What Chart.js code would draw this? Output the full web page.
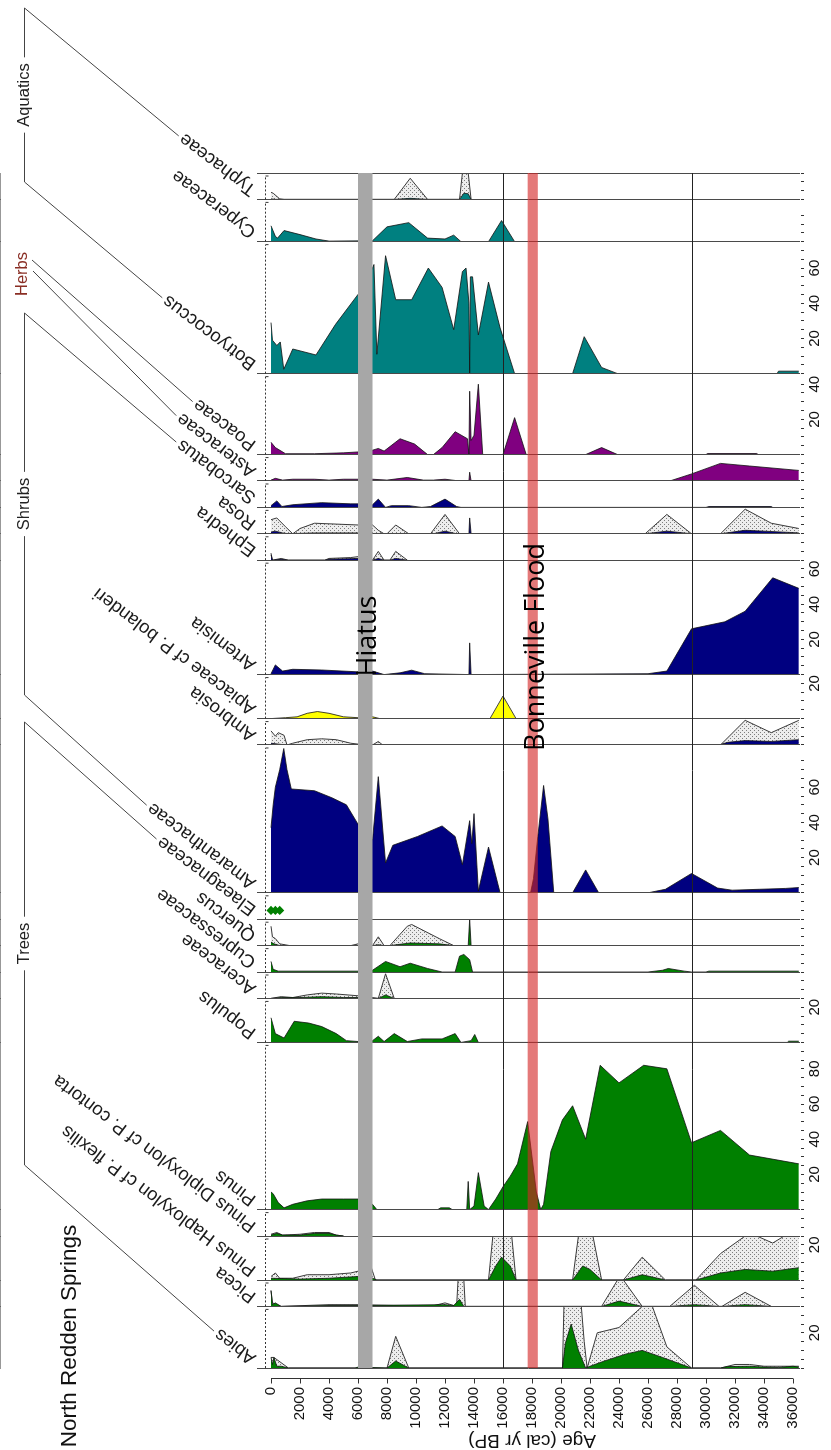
<!DOCTYPE html>
<html>
<head>
<meta charset="utf-8">
<script src="https://cdn.jsdelivr.net/npm/chart.js@4.4.1/dist/chart.umd.min.js"></script>
<style>
  html, body { margin: 0; padding: 0; background: #fff; }
</style>
</head>
<body>
<canvas id="diagram" width="831" height="1450"></canvas>
<script>
// ---- data: [age cal yr BP, percent] ----
const ageTicks = [0, 2000, 4000, 6000, 8000, 10000, 12000, 14000, 16000, 18000, 20000, 22000, 24000, 26000, 28000, 30000, 32000, 34000, 36000];
const hiatusAges = [6000, 7000];
const floodAges = [17700, 18400];
const eventAges = [16000, 29000];

const typhaceae = [[0,0.3],[300,0],[8500,0],[9600,0.6],[10800,0],[13000,0],[13300,3.5],[13600,3.2],[13800,0]];
const typhaceaeX = [[0,4],[150,3.5],[600,0.3],[900,0],[8500,0],[9600,12],[10800,0],[13000,0],[13200,15],[13600,15],[13800,0]];
const cyperaceae = [[0,9],[300,3],[450,2],[900,6.3],[2000,4],[3100,1.5],[4000,0.3],[7000,0.5],[8000,8.4],[9500,10.8],[10800,2],[12000,1.5],[12600,3.7],[13100,0],[15000,0],[15900,12],[16800,0]];
const botryococcus = [[0,29],[100,19],[400,16],[640,18],[880,2.5],[1500,14],[3100,10.6],[4450,28],[6000,45],[7000,60],[7100,62],[7300,11],[7900,67],[8600,42],[9700,42],[10850,60],[11800,49],[12600,25],[13200,58],[13450,60],[13650,40],[13700,0],[13750,55],[13900,55],[14300,22],[15000,52],[15800,26],[16800,0],[20800,0],[21600,21],[22800,3.5],[23900,0],[34900,0],[35000,1.4],[36400,1.4]];
const poaceae = [[0,7],[300,4],[1000,0.5],[3000,0.5],[5000,1],[6000,1.5],[7000,2.5],[7400,3.5],[7800,2],[8900,9],[9900,6],[10800,0],[11200,0],[11800,4],[12700,13],[13550,9],[13650,0],[13700,36],[13800,8],[14000,11],[14300,40],[14600,0],[16000,0],[16800,21],[17600,0],[21700,0],[22800,4],[23900,0],[30000,0],[30100,0.6],[33500,0.6],[33600,0]];
const asteraceae = [[0,0.5],[300,1.5],[800,0.5],[1500,1],[3000,1],[4000,0.5],[5000,1],[6000,1],[7000,1],[8000,0.5],[9400,2],[10500,0.5],[11200,0.5],[12000,1],[13000,0],[13650,0],[13700,5],[13800,0],[27500,0],[29000,4],[31000,10],[33000,8.5],[36400,6]];
const sarcobatus = [[0,1],[400,3.7],[750,0.5],[1500,1.5],[3500,2.7],[5500,2],[6000,2],[7000,1.5],[7400,4.7],[7900,0],[8300,1],[9500,1],[10400,0],[11000,0.5],[12000,4.7],[12800,0.5],[13100,0],[30000,0],[30200,0.5],[34500,0.5],[34600,0]];
const rosa = [[0,1],[300,1.5],[800,0.5],[1200,0],[3000,0.5],[6000,0.5],[7000,0],[11200,0],[12000,1.5],[12800,0],[13650,0],[13700,9],[13800,0],[25800,0],[27300,1.5],[29000,0],[31000,0],[32700,2],[34000,1.5],[36400,0.5]];
const rosaX = [[0,8],[400,9],[1000,4],[1500,0],[2000,3],[3000,6],[4500,5.5],[6000,5],[7000,5],[7400,2],[7800,0],[8000,0],[8600,5],[9500,0],[11000,0],[12000,11],[13000,0],[25800,0],[27300,11],[29000,0],[31000,0],[32700,14],[34500,6],[36400,3]];
const ephedra = [[0,3],[100,0],[700,0.5],[1200,0],[3700,0],[4000,0.5],[6000,1],[6500,0.5],[7000,0],[7400,1],[7800,0],[8200,0],[8600,1],[9400,0]];
const ephedraX = [[0,4],[100,0],[700,1],[1200,0],[3700,0],[4000,1],[5500,1.5],[6000,2],[6500,4],[7000,0],[7400,5],[7800,0],[8200,0],[8600,5],[9400,0]];
const artemisia = [[0,0.5],[300,5.5],[800,2],[1500,3],[3500,2.6],[5900,1.6],[7000,2],[7800,0],[8900,1],[9700,2.5],[10600,0.5],[13650,0],[13700,18],[13800,0],[26000,0.5],[27300,2],[29000,26],[31300,30],[32700,36],[34600,55],[36400,49]];
const apiaceae = [[0,0],[1000,0.5],[1800,1],[2500,3],[3200,4],[4000,3],[5000,1],[6000,0.5],[7000,1],[7500,0]];
const apiaceaeFind = [[16000,4.3]];
const ambrosia = [[0,1],[1000,0],[30900,0],[31500,1.5],[32700,2.5],[34500,2],[36400,3]];
const ambrosiaX = [[0,8],[300,5],[500,7],[900,5.5],[1100,0],[1500,1],[2500,3],[3500,3.5],[4500,3],[5500,1],[6000,0.5],[7000,0],[7400,2],[7700,0],[31000,0],[32700,14],[34500,7],[36400,14]];
const amaranthaceae = [[0,37],[150,50],[300,60],[600,70],[880,82],[1100,70],[1400,59],[3000,58],[4200,54],[5200,50],[6000,39],[7000,30],[7400,66],[7900,17],[8400,27],[10100,32],[11800,38],[12700,32],[13200,16],[13700,41],[13850,28],[14000,45],[14300,1],[15000,26],[15800,0],[17900,0],[18100,8],[18400,32],[18800,61],[19100,42],[19500,0],[20800,0],[21700,13],[22600,0],[26000,0],[27200,2],[29000,11],[30800,2.7],[31800,1.5],[33700,2],[35500,2.5],[36400,3]];
const elaeagnaceae = [[0,5],[300,5],[600,5]];
const quercus = [[0,2],[200,1],[600,0],[7000,0],[7400,0.5],[7800,0],[8200,0],[9600,1.5],[11600,1],[12600,0],[13600,0],[13700,15],[13800,0]];
const quercusX = [[0,11],[100,5],[300,4],[600,1],[1300,0],[5500,0],[6000,1],[7000,0],[7400,5],[7800,0],[8200,0],[9400,11],[9700,12],[11600,4],[12600,0]];
const cupressaceae = [[0,6],[150,1.5],[500,0.5],[6000,0.5],[7000,1],[7900,6],[8900,3],[9600,5],[10800,2],[11800,0],[12700,0],[13000,9],[13300,10],[13700,7],[13900,0],[26000,0],[27000,1],[27400,2],[28500,0.5],[29000,0],[30000,0],[30200,0.5],[36400,0.5]];
const aceraceae = [[0,0],[700,0.5],[2000,0.5],[3500,1],[5000,0.5],[6000,0.5],[7400,0],[7900,2],[8500,0]];
const aceraceaeX = [[0,0],[700,1],[1500,0.5],[2500,2],[3500,3],[4500,2.5],[6000,1.5],[7400,0],[7900,14],[8500,0]];
const populus = [[0,14],[100,11],[300,5],[900,2.5],[1600,12],[2600,11],[3500,9],[4500,5],[5200,1],[6000,0.5],[7000,1],[7400,3.5],[7800,0.5],[8500,5],[9400,0.5],[10400,2],[11800,2],[12700,5],[13100,0],[13800,1],[14050,4.5],[14300,0],[35600,0],[35700,0.7],[36400,0.7]];
const pinus = [[0,10],[150,9],[500,4],[900,1],[1500,3],[2500,5],[3500,6],[5000,6],[6000,6],[6500,5],[7000,3],[7300,0],[11500,0],[11700,1],[12300,1],[12500,0],[13500,0],[13600,16],[13700,0],[14000,2],[14300,21],[14700,2],[15000,0],[15500,6],[16000,13],[16500,19],[17000,26],[17700,50],[18300,10],[18600,0],[18800,3],[19300,33],[20100,51],[20800,59],[21700,40],[22700,82],[24000,72],[25700,82],[27300,80],[29000,38],[31000,45],[33000,31],[36400,26]];
const diploxylon = [[0,0.5],[400,1.5],[800,0.5],[2000,0.5],[3000,1.5],[4000,1.5],[4500,0.5],[5000,0]];
const diploxylonX = [[0,1],[400,2],[800,0.5],[2000,1],[3000,2],[4000,2],[4500,0.5],[5000,0]];
const haploxylon = [[0,1],[2000,0.5],[4000,1],[6000,2],[7000,1],[7300,0],[15000,0],[15500,8],[15900,13],[16500,8],[16900,0],[20800,0],[21500,8],[22000,6],[22800,0],[24300,0],[25600,3],[27200,0],[29300,0],[31000,4],[32700,6],[34600,5],[36400,7]];
const haploxylonX = [[0,2],[300,4],[600,1],[1500,1],[2500,3],[4000,3],[5500,4],[6000,5],[6800,10],[7200,0],[15000,0],[15300,25],[16600,25],[16900,0],[20800,0],[21200,25],[22200,25],[22800,0],[24300,0],[25600,13],[27200,0],[29300,0],[31000,15],[32700,25],[33500,25],[34600,21],[35400,25],[36400,25]];
const picea = [[0,9],[100,1],[300,2],[700,0],[4000,0.5],[6000,0.5],[12000,1],[12600,0.5],[13000,4],[13300,0],[22800,0],[24000,3],[25600,0],[27500,0],[29200,1],[30900,0],[31100,0],[32700,1],[34500,0]];
const piceaX = [[0,9],[100,2],[700,0],[4000,1],[6000,1],[11000,0],[12000,2],[12800,0],[12900,15],[13300,15],[13400,0],[22800,0],[23900,15],[24300,15],[25600,0],[27500,0],[29200,12],[30900,0],[31100,0],[32700,8],[34500,0]];
const abies = [[0,6],[100,2],[200,6],[400,1],[700,1],[1200,0],[5800,0],[6000,0.5],[8000,0],[8600,4],[9500,0],[20100,0],[20300,14],[20700,25],[21200,10],[21700,0],[22000,1],[23000,4],[24500,8],[25600,10],[27000,6],[28000,3],[29000,0],[31000,0],[31500,0.8],[33000,1],[34000,0.5],[35000,0.3],[36000,1],[36400,0.5]];
const abiesX = [[0,6],[200,6],[1200,0],[8000,0],[8600,18],[9500,0],[20100,0],[20200,35],[21400,35],[21600,15],[21800,0],[22500,20],[24000,23],[25600,35],[26300,35],[27300,12],[29000,0],[31000,0],[32000,2],[33000,2],[34000,1],[36400,1]];

// ---- panel setup, top to bottom ----
const TEAL = '#008080', PURPLE = '#800080', NAVY = '#000080', GREEN = '#008000', YELLOW = '#ffff00';
const FONT = 'Arial, "Liberation Sans", sans-serif';

const panels = [
  { name: 'Typhaceae', data: typhaceae, exag: typhaceaeX, color: TEAL, max: 15 },
  { name: 'Cyperaceae', data: cyperaceae, color: TEAL, max: 24 },
  { name: 'Botryococcus', data: botryococcus, color: TEAL, max: 75 },
  { name: 'Poaceae', data: poaceae, color: PURPLE, max: 46 },
  { name: 'Asteraceae', data: asteraceae, color: PURPLE, max: 15 },
  { name: 'Sarcobatus', data: sarcobatus, color: NAVY, max: 15 },
  { name: 'Rosa', data: rosa, exag: rosaX, color: NAVY, max: 15 },
  { name: 'Ephedra', data: ephedra, exag: ephedraX, color: NAVY, max: 15 },
  { name: 'Artemisia', data: artemisia, color: NAVY, max: 65 },
  { name: 'Apiaceae cf P. bolanderi', data: apiaceae, find: apiaceaeFind, color: YELLOW, max: 25 },
  { name: 'Ambrosia', data: ambrosia, exag: ambrosiaX, color: NAVY, max: 15 },
  { name: 'Amaranthaceae', data: amaranthaceae, color: NAVY, max: 84 },
  { name: 'Elaeagnaceae', data: elaeagnaceae, color: GREEN, max: 15, dots: true },
  { name: 'Quercus', data: quercus, exag: quercusX, color: GREEN, max: 15 },
  { name: 'Cupressaceae', data: cupressaceae, color: GREEN, max: 15 },
  { name: 'Aceraceae', data: aceraceae, exag: aceraceaeX, color: GREEN, max: 15 },
  { name: 'Populus', data: populus, color: GREEN, max: 25 },
  { name: 'Pinus', data: pinus, color: GREEN, max: 95 },
  { name: 'Pinus Diploxylon cf P. contorta', data: diploxylon, exag: diploxylonX, color: GREEN, max: 15 },
  { name: 'Pinus Haploxylon cf P. flexilis', data: haploxylon, exag: haploxylonX, color: GREEN, max: 25 },
  { name: 'Picea', data: picea, exag: piceaX, color: GREEN, max: 15 },
  { name: 'Abies', data: abies, exag: abiesX, color: GREEN, max: 35 }
];

const groups = [
  { label: 'Aquatics', first: 'Typhaceae', last: 'Botryococcus', y0: 8, y1: 182 },
  { label: 'Shrubs', first: 'Sarcobatus', last: 'Amaranthaceae', y0: 313, y1: 695 },
  { label: 'Trees', first: 'Elaeagnaceae', last: 'Abies', y0: 722, y1: 1165 }
];

const canvas = document.getElementById('diagram');
const ctx0 = canvas.getContext('2d');

// stipple fill for the exaggeration curves
function stipple() {
  const c = document.createElement('canvas');
  c.width = 4; c.height = 4;
  const g = c.getContext('2d');
  g.fillStyle = '#ededed'; g.fillRect(0, 0, 4, 4);
  g.fillStyle = '#7d7d7d'; g.fillRect(0, 0, 1, 1); g.fillRect(2, 2, 1, 1);
  return ctx0.createPattern(c, 'repeat');
}
const dots = stipple();
const toXY = pts => pts.map(([x, y]) => ({ x, y }));

const datasets = [];
const scales = {
  x: {
    type: 'linear', min: -966, max: 36482,
    afterBuildTicks: axis => { axis.ticks = ageTicks.map(v => ({ value: v })); },
    afterFit: axis => { axis.height = 62; },
    grid: { display: false, drawTicks: false },
    border: { display: false },
    ticks: { autoSkip: false, minRotation: 90, maxRotation: 90, padding: 19, color: '#111',
      font: { family: FONT, size: 15 }, callback: v => String(v) }
  }
};

panels.forEach((p, i) => {
  const id = 'y' + i;
  scales[id] = {
    type: 'linear', position: 'right', stack: 'taxa', stackWeight: p.max,
    min: 0, max: p.max,
    afterFit: axis => { axis.width = 26; },
    grid: {
      z: 1, drawOnChartArea: true, drawTicks: true, tickLength: 4, tickColor: '#333',
      color: c => (c.tick && (c.tick.value === 0 || (i === 0 && c.tick.value === p.max))) ? '#4a4a4a' : 'rgba(0,0,0,0)'
    },
    border: { display: true, color: '#333' },
    ticks: { stepSize: 5, autoSkip: false, minRotation: 90, maxRotation: 90, padding: 3, crossAlign: 'center',
      color: '#111', font: { family: FONT, size: 15 },
      callback: v => (v > 0 && v % 20 === 0) ? String(v) : '' }
  };
  if (p.exag) {
    datasets.push({ data: toXY(p.exag), yAxisID: id, fill: 'origin', backgroundColor: dots,
      borderColor: '#3a3a3a', borderWidth: 1, pointRadius: 0, tension: 0, order: 2 });
  }
  if (p.dots) {
    datasets.push({ data: toXY(p.data), yAxisID: id, fill: false, borderColor: p.color, borderWidth: 1.5,
      pointStyle: 'rectRot', pointRadius: 3.5, pointBackgroundColor: p.color, pointBorderColor: p.color, order: 1 });
  } else {
    datasets.push({ data: toXY(p.data), yAxisID: id, fill: 'origin', backgroundColor: p.color,
      borderColor: '#111', borderWidth: 0.8, pointRadius: 0, tension: 0, order: 1 });
  }
  if (p.find) {
    datasets.push({ data: toXY(p.find), yAxisID: id, showLine: false, pointStyle: 'triangle', pointRadius: 15,
      pointBackgroundColor: YELLOW, pointBorderColor: '#444', pointBorderWidth: 1, order: 0 });
  }
});

const ANG = 217 * Math.PI / 180;
const DIR = [Math.cos(ANG), Math.sin(ANG)];
const UP = [Math.sin(ANG), -Math.cos(ANG)];

const decor = {
  id: 'decor',
  afterDraw(chart) {
    const { ctx, chartArea: a, scales: s } = chart;
    const X = v => s.x.getPixelForValue(v);
    ctx.save();
    ctx.lineWidth = 1;
    ctx.strokeStyle = '#333';

    // left value axes of every panel
    const ax = Math.round(X(-414)) + 0.5;
    panels.forEach((p, i) => {
      const sc = s['y' + i];
      ctx.setLineDash([2, 2]);
      ctx.beginPath(); ctx.moveTo(ax, sc.bottom); ctx.lineTo(ax, sc.top + 3); ctx.stroke();
      ctx.setLineDash([]);
      ctx.beginPath(); ctx.moveTo(ax, sc.top + 3); ctx.lineTo(ax + 3, sc.top + 3); ctx.stroke();
    });

    // age axis line and ticks
    const ay = Math.round(a.bottom + 10) + 0.5;
    ctx.beginPath(); ctx.moveTo(X(ageTicks[0]), ay); ctx.lineTo(X(ageTicks[ageTicks.length - 1]), ay); ctx.stroke();
    s.x.ticks.forEach(t => {
      const x = Math.round(X(t.value)) + 0.5;
      ctx.beginPath(); ctx.moveTo(x, ay); ctx.lineTo(x, ay + 5); ctx.stroke();
    });

    // event lines
    ctx.strokeStyle = '#222';
    eventAges.forEach(v => {
      const x = Math.round(X(v)) + 0.5;
      ctx.beginPath(); ctx.moveTo(x, a.top); ctx.lineTo(x, a.bottom); ctx.stroke();
    });

    // hiatus and flood bands
    ctx.fillStyle = '#a7a7a7';
    ctx.fillRect(X(hiatusAges[0]), a.top, X(hiatusAges[1]) - X(hiatusAges[0]), a.bottom - a.top);
    ctx.fillStyle = 'rgba(212, 38, 38, 0.62)';
    ctx.fillRect(X(floodAges[0]), a.top, X(floodAges[1]) - X(floodAges[0]), a.bottom - a.top);

    ctx.fillStyle = '#000';
    ctx.font = '27px "Open Sans", sans-serif';
    ctx.textAlign = 'center'; ctx.textBaseline = 'middle';
    [['Hiatus', X(6700), 636], ['Bonneville Flood', X(18300), 647]].forEach(([t, x, y]) => {
      ctx.save(); ctx.translate(x, y); ctx.rotate(-Math.PI / 2); ctx.fillText(t, 0, 0); ctx.restore();
    });

    // taxon labels
    ctx.font = '18.5px ' + FONT;
    ctx.fillStyle = '#1a1a1a';
    ctx.textAlign = 'left'; ctx.textBaseline = 'alphabetic';
    const ends = {};
    panels.forEach((p, i) => {
      const sc = s['y' + i];
      const x0 = a.left, y0 = sc.bottom - 12;
      ctx.save(); ctx.translate(x0, y0); ctx.rotate(ANG); ctx.fillText(p.name, 0, 0); ctx.restore();
      const w = ctx.measureText(p.name).width + 3;
      ends[p.name] = [x0 + w * DIR[0] + 6 * UP[0], y0 + w * DIR[1] + 6 * UP[1]];
    });

    // group brackets
    ctx.strokeStyle = '#444';
    ctx.font = '16.5px ' + FONT;
    ctx.textAlign = 'center'; ctx.textBaseline = 'middle';
    const gx = 24.5;
    groups.forEach(g => {
      const mid = (g.y0 + g.y1) / 2;
      const half = ctx.measureText(g.label).width / 2 + 6;
      ctx.beginPath();
      ctx.moveTo(...ends[g.first]); ctx.lineTo(gx, g.y0); ctx.lineTo(gx, mid - half);
      ctx.moveTo(gx, mid + half); ctx.lineTo(gx, g.y1); ctx.lineTo(...ends[g.last]);
      ctx.stroke();
      ctx.fillStyle = '#222';
      ctx.save(); ctx.translate(gx, mid); ctx.rotate(-Math.PI / 2); ctx.fillText(g.label, 0, 0); ctx.restore();
    });
    // herbs
    ctx.beginPath();
    ctx.moveTo(32, 260); ctx.lineTo(...ends['Poaceae']);
    ctx.moveTo(33, 271); ctx.lineTo(...ends['Asteraceae']);
    ctx.stroke();
    ctx.fillStyle = '#8a2e24';
    ctx.save(); ctx.translate(gx - 2, 274); ctx.rotate(-Math.PI / 2); ctx.fillText('Herbs', 0, 0); ctx.restore();

    // site name and age title
    ctx.fillStyle = '#111';
    ctx.font = '22.5px ' + FONT;
    ctx.save(); ctx.translate(70, 1336); ctx.rotate(-Math.PI / 2); ctx.fillText('North Redden Springs', 0, 0); ctx.restore();
    ctx.font = '19px ' + FONT;
    ctx.save(); ctx.translate((X(0) + X(36000)) / 2, 1440); ctx.rotate(Math.PI); ctx.fillText('Age (cal yr BP)', 0, 0); ctx.restore();
    ctx.restore();
  }
};

new Chart(canvas, {
  type: 'line',
  data: { datasets: datasets },
  options: {
    responsive: false,
    animation: false,
    events: [],
    layout: { padding: { left: 257, right: 5, top: 173, bottom: 20 } },
    scales: scales,
    plugins: {
      legend: { display: false },
      tooltip: { enabled: false }
    }
  },
  plugins: [decor]
});
</script>
</body>
</html>
